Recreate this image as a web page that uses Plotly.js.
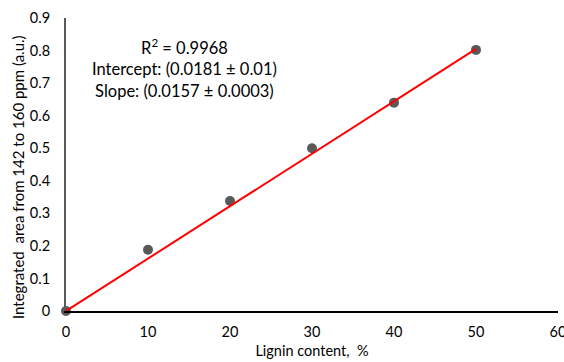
<!DOCTYPE html>
<html>
<head>
<meta charset="utf-8">
<script src="https://cdn.plot.ly/plotly-3.0.1.min.js"></script>
<style>html,body{margin:0;padding:0;background:#fff;}#chart{width:564px;height:362px;}</style>
</head>
<body>
<div id="chart"></div>
<script>
const ligninContent = [0, 10, 20, 30, 40, 50];
const integratedArea = [0, 0.188, 0.338, 0.5, 0.64, 0.802];
const fitX = [0, 50];
const fitY = [0, 0.805];
const xTicks = [0, 10, 20, 30, 40, 50, 60];
const yTicks = [0, 0.1, 0.2, 0.3, 0.4, 0.5, 0.6, 0.7, 0.8, 0.9];
const yTickText = ['0', '0.1', '0.2', '0.3', '0.4', '0.5', '0.6', '0.7', '0.8', '0.9'];
const statsText = 'R<sup>2</sup> = 0.9968<br>Intercept: (0.0181 ± 0.01)<br>Slope: (0.0157 ± 0.0003)';
const yTitle = 'Integrated  area from 142 to 160 ppm (a.u.)';
const xTitle = 'Lignin content,  %';

const font = 'Lato, "Open Sans", sans-serif';
const traces = [
  {x: ligninContent, y: integratedArea, type: 'scatter', mode: 'markers',
   marker: {color: '#595959', size: 10}, cliponaxis: false, hoverinfo: 'skip'},
  {x: fitX, y: fitY, type: 'scatter', mode: 'lines',
   line: {color: '#ff0000', width: 2}, cliponaxis: false, hoverinfo: 'skip'}
];
const layout = {
  width: 564, height: 362,
  margin: {l: 66, r: 6, t: 18, b: 51},
  paper_bgcolor: '#fff', plot_bgcolor: '#fff',
  showlegend: false,
  font: {family: font, size: 14.5, color: '#000'},
  xaxis: {range: [0, 60], tickvals: xTicks, ticktext: xTicks.map(String),
    showgrid: false, zeroline: false, showline: true, linecolor: '#000', linewidth: 2,
    ticks: '', ticklen: 0, tickfont: {size: 14.5}, ticklabeloverflow: 'allow', ticklabelstandoff: 7,
    title: {text: xTitle, font: {size: 14.5}, standoff: 6}},
  yaxis: {range: [0, 0.9], tickvals: yTicks, ticktext: yTickText,
    showgrid: false, zeroline: false, showline: true, linecolor: '#595959', linewidth: 2,
    ticks: '', ticklen: 0, tickfont: {size: 14.5}, ticklabelstandoff: 11},
  annotations: [{
    xref: 'paper', yref: 'paper', x: (184 - 66) / 492, y: 1 - (68 - 18) / 293,
    xanchor: 'center', yanchor: 'middle', showarrow: false, align: 'center',
    text: statsText, font: {size: 16.5, family: font, color: '#000'}
  }, {
    xref: 'paper', yref: 'paper', x: (18 - 66) / 492, y: 1 - (177 - 18) / 293,
    xanchor: 'center', yanchor: 'middle', showarrow: false, textangle: -90,
    text: yTitle, font: {size: 15, family: font, color: '#000'}
  }]
};
Plotly.newPlot('chart', traces, layout, {staticPlot: true, displayModeBar: false});
</script>
</body>
</html>
